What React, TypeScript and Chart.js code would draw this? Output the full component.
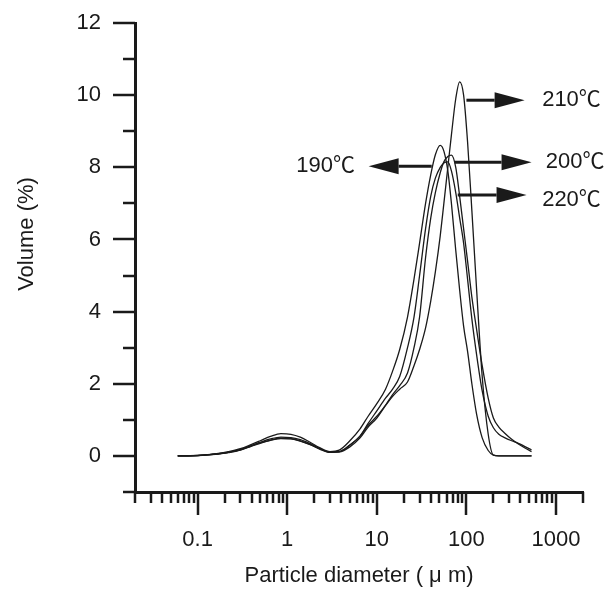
import React, { useEffect, useRef } from 'react';
import { Chart, registerables } from 'chart.js';

Chart.register(...registerables);

// Particle diameter (µm) sample points
const diameters = [
  0.06, 0.08, 0.1, 0.13, 0.17, 0.22, 0.3, 0.4, 0.5, 0.65, 0.85, 1.1, 1.4, 1.8, 2.3, 3, 3.8,
  5, 6.5, 8, 10, 12.5, 15, 18, 22, 26, 30, 35, 40, 45, 51, 56, 62, 68, 76, 84, 93, 103, 115,
  130, 150, 175, 200, 230, 270, 320, 380, 450, 533,
];

const vol190 = [
  0, 0.005, 0.015, 0.035, 0.07, 0.12, 0.2, 0.32, 0.42, 0.54, 0.62, 0.6, 0.52, 0.38, 0.23, 0.12, 0.16,
  0.42, 0.75, 1.1, 1.45, 1.85, 2.35, 2.95, 3.85, 4.9, 5.9, 7.0, 7.8, 8.35, 8.61, 8.45, 7.9, 7.0, 5.7,
  4.6, 3.6, 2.9, 2.0, 1.15, 0.5, 0.15, 0.02, 0, 0, 0, 0, 0, 0,
];
const vol200 = [
  0, 0.004, 0.01, 0.03, 0.06, 0.1, 0.17, 0.28, 0.36, 0.44, 0.49, 0.48, 0.42, 0.32, 0.2, 0.1, 0.11,
  0.25, 0.5, 0.8, 1.05, 1.4, 1.7, 1.95, 2.3, 3.0, 3.85, 5.5, 6.6, 7.3, 7.85, 8.15, 8.3, 8.34, 8.0,
  7.2, 6.3, 5.4, 4.4, 3.5, 2.5, 1.6, 1.05, 0.8, 0.62, 0.46, 0.33, 0.22, 0.12,
];
const vol210 = [
  0, 0.005, 0.012, 0.03, 0.06, 0.1, 0.18, 0.29, 0.38, 0.47, 0.52, 0.51, 0.45, 0.34, 0.21, 0.11, 0.12,
  0.3, 0.55, 0.85, 1.1, 1.4, 1.65, 1.85, 2.05, 2.5, 2.95, 3.55, 4.3, 5.1, 6.1, 7.0, 8.0, 8.9, 9.9,
  10.37, 10.0, 8.7, 6.8, 4.6, 2.2, 0.6, 0.02, 0, 0, 0, 0, 0, 0,
];
const vol220 = [
  0, 0.004, 0.01, 0.03, 0.05, 0.09, 0.16, 0.27, 0.35, 0.43, 0.48, 0.47, 0.41, 0.31, 0.19, 0.1, 0.11,
  0.3, 0.55, 0.9, 1.25, 1.6, 1.85, 2.2, 3.0, 3.85, 5.0, 6.3, 7.2, 7.7, 8.0, 8.12, 8.15, 7.9, 7.3,
  6.6, 5.9, 4.9, 3.8, 2.8, 1.8, 1.1, 0.78, 0.6, 0.5, 0.42, 0.35, 0.26, 0.17,
];

const seriesNames = ['190℃', '200℃', '210℃', '220℃'];

// Axis ticks
const xMajorTicks = [0.1, 1, 10, 100, 1000];
const xMinorTicks = [
  0.02, 0.03, 0.04, 0.05, 0.06, 0.07, 0.08, 0.09,
  0.2, 0.3, 0.4, 0.5, 0.6, 0.7, 0.8, 0.9,
  2, 3, 4, 5, 6, 7, 8, 9,
  20, 30, 40, 50, 60, 70, 80, 90,
  200, 300, 400, 500, 600, 700, 800, 900,
  2000,
];
const yMajorTicks = [0, 2, 4, 6, 8, 10, 12];
const yMinorTicks = [-1, 1, 3, 5, 7, 9, 11];

// Arrow annotations (data coordinates)
const annotations = [
  { text: '210℃', y: 9.86, from: 100, to: 446, labelX: 700, labelY: 9.86, dir: 1 },
  { text: '200℃', y: 8.14, from: 74, to: 533, labelX: 770, labelY: 8.14, dir: 1 },
  { text: '220℃', y: 7.23, from: 80, to: 469, labelX: 700, labelY: 7.09, dir: 1 },
  { text: '190℃', y: 8.03, from: 41, to: 8.1, labelX: 5.7, labelY: 8.03, dir: -1 },
];

const FONT = '"Liberation Sans", Arial, Helvetica, sans-serif';
const LABEL_FONT = '"Liberation Sans", Arial, "Noto Sans CJK SC", sans-serif';
const INK = '#1a1a1a';

const tickPlugin = {
  id: 'customTicks',
  afterDraw(chart: any) {
    const { ctx, scales } = chart;
    const xs = scales.x;
    const ys = scales.y;
    ctx.save();
    ctx.strokeStyle = INK;
    ctx.lineWidth = 2.5;
    ctx.lineCap = 'butt';
    const axisY = ys.getPixelForValue(-1);
    const axisX = xs.getPixelForValue(0.02);
    const drawX = (v: number, len: number) => {
      const px = Math.round(xs.getPixelForValue(v));
      ctx.beginPath();
      ctx.moveTo(px, axisY);
      ctx.lineTo(px, axisY + len);
      ctx.stroke();
    };
    xMinorTicks.forEach((v) => drawX(v, 11));
    xMajorTicks.forEach((v) => drawX(v, 23));
    const drawY = (v: number, len: number) => {
      const py = Math.round(ys.getPixelForValue(v));
      ctx.beginPath();
      ctx.moveTo(axisX, py);
      ctx.lineTo(axisX - len, py);
      ctx.stroke();
    };
    yMinorTicks.forEach((v) => drawY(v, 12));
    yMajorTicks.forEach((v) => drawY(v, 22));
    ctx.restore();
  },
};

const arrowPlugin = {
  id: 'arrows',
  afterDatasetsDraw(chart: any) {
    const { ctx, scales } = chart;
    const xs = scales.x;
    const ys = scales.y;
    ctx.save();
    ctx.strokeStyle = INK;
    ctx.fillStyle = INK;
    annotations.forEach((a) => {
      const py = ys.getPixelForValue(a.y);
      const x1 = xs.getPixelForValue(a.from);
      const x2 = xs.getPixelForValue(a.to);
      const headLen = 30;
      const headHalf = 8;
      ctx.lineWidth = 3;
      ctx.beginPath();
      ctx.moveTo(x1, py);
      ctx.lineTo(x2 - a.dir * headLen, py);
      ctx.stroke();
      ctx.beginPath();
      ctx.moveTo(x2, py);
      ctx.lineTo(x2 - a.dir * headLen, py - headHalf);
      ctx.lineTo(x2 - a.dir * headLen, py + headHalf);
      ctx.closePath();
      ctx.fill();
      ctx.font = `22px ${LABEL_FONT}`;
      ctx.textBaseline = 'middle';
      ctx.textAlign = a.dir > 0 ? 'left' : 'right';
      ctx.fillText(a.text, xs.getPixelForValue(a.labelX), ys.getPixelForValue(a.labelY));
    });
    ctx.restore();
  },
};

const yTitlePlugin = {
  id: 'yTitle',
  afterDraw(chart: any) {
    const { ctx } = chart;
    ctx.save();
    ctx.translate(27, 234);
    ctx.rotate(-Math.PI / 2);
    ctx.font = `22px ${FONT}`;
    ctx.fillStyle = INK;
    ctx.textAlign = 'center';
    ctx.textBaseline = 'middle';
    ctx.fillText('Volume (%)', 0, 0);
    ctx.restore();
  },
};

export default function App() {
  const canvasRef = useRef<HTMLCanvasElement | null>(null);

  useEffect(() => {
    if (!canvasRef.current) return;
    const allSeries = [vol190, vol200, vol210, vol220];
    const chart = new Chart(canvasRef.current, {
      type: 'line',
      data: {
        datasets: allSeries.map((vals, i) => ({
          label: seriesNames[i],
          data: diameters.map((d, j) => ({ x: d, y: vals[j] })),
          borderColor: INK,
          borderWidth: 1.3,
          pointRadius: 0,
          fill: false,
          cubicInterpolationMode: 'monotone' as const,
        })),
      },
      options: {
        responsive: false,
        animation: false,
        events: [],
        layout: { padding: { left: 0, top: 23, right: 32, bottom: 0 } },
        plugins: {
          legend: { display: false },
          tooltip: { enabled: false },
          title: { display: false },
        },
        scales: {
          x: {
            type: 'logarithmic',
            min: 0.02,
            max: 2000,
            grid: { display: false, drawTicks: false, tickLength: 0 },
            border: { display: true, color: INK, width: 3 },
            afterBuildTicks: (scale: any) => {
              scale.ticks = xMajorTicks.map((v) => ({ value: v }));
            },
            afterFit: (scale: any) => {
              scale.height = 98;
              scale.paddingLeft = 0;
              scale.paddingRight = 0;
            },
            ticks: {
              autoSkip: false,
              maxRotation: 0,
              minRotation: 0,
              padding: 35,
              color: INK,
              font: { family: FONT, size: 22 },
              callback: (value: any) => String(value),
            },
            title: {
              display: true,
              text: 'Particle diameter ( μ m)',
              color: INK,
              font: { family: FONT, size: 22 },
              padding: { top: 0, bottom: 1 },
            },
          },
          y: {
            type: 'linear',
            min: -1,
            max: 12,
            grid: { display: false, drawTicks: false, tickLength: 0 },
            border: { display: true, color: INK, width: 3 },
            afterBuildTicks: (scale: any) => {
              scale.ticks = yMajorTicks.map((v) => ({ value: v }));
            },
            afterFit: (scale: any) => {
              scale.width = 135;
              scale.paddingTop = 0;
              scale.paddingBottom = 0;
            },
            ticks: {
              padding: 34,
              color: INK,
              font: { family: FONT, size: 22 },
            },
            title: { display: false },
          },
        },
      },
      plugins: [tickPlugin, arrowPlugin, yTitlePlugin],
    });
    return () => chart.destroy();
  }, []);

  return (
    <div style={{ position: 'absolute', left: 0, top: 0, width: 615, height: 590, background: '#fff' }}>
      <canvas ref={canvasRef} width={615} height={590} style={{ width: 615, height: 590, display: 'block' }} />
    </div>
  );
}
